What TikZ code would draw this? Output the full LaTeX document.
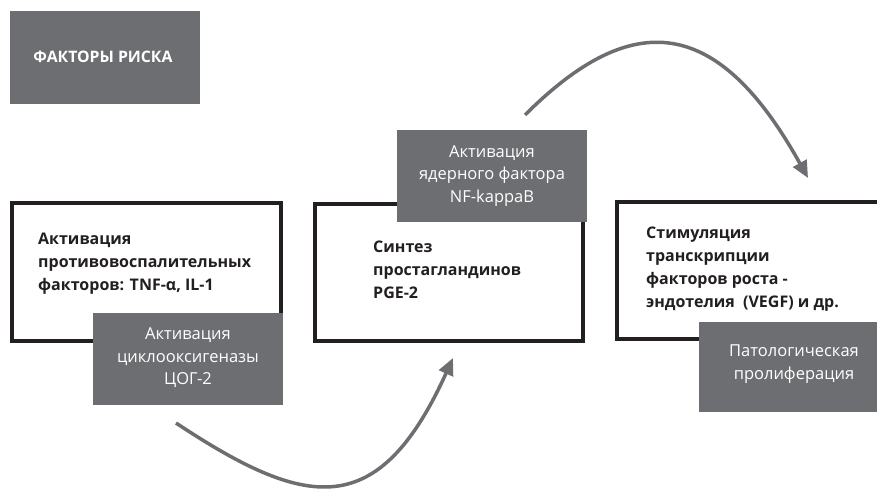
\documentclass[tikz,border=0pt]{standalone}
\usepackage{fontspec}
\setmainfont{Open Sans}
\usetikzlibrary{arrows.meta}
\definecolor{gfill}{HTML}{6D6E71}
\definecolor{ink}{HTML}{231F20}
\tikzset{
  frame/.style={draw=ink, line width=4pt, fill=white},
  grey/.style={fill=gfill, draw=none},
  boldtxt/.style={anchor=north west, inner sep=0pt, align=left, text=ink,
    font=\fontsize{16}{23.2}\selectfont\bfseries},
  greytxt/.style={inner sep=0pt, align=center, text=white,
    font=\fontsize{16.5}{22.5}\selectfont},
  flow/.style={draw=gfill, line width=3.5pt, -{Triangle[length=17pt,width=15pt]}}
}
\begin{document}
\begin{tikzpicture}[x=1pt,y=-1pt]
\clip (0,0) rectangle (877,490);
\fill[white] (0,0) rectangle (877,490);
% risk factors
\fill[grey] (10,11) rectangle (200,104);
\node[text=white, inner sep=0pt, font=\fontsize{15.8}{18}\selectfont\bfseries] (factors) at (103,57) {ФАКТОРЫ РИСКА};
% white frames
\draw[frame] (12,203) rectangle (281,341);
\node[boldtxt] (box1) at (38,232.5) {Активация\\противовоспалительных\\факторов: TNF-α, IL-1};
\draw[frame] (315,204) rectangle (583,341);
\node[boldtxt] (box2) at (373,240.5) {Синтез\\простагландинов\\PGE-2};
\draw[frame] (617,202) rectangle (900,339);
\node[boldtxt] (box3) at (646,226.5) {Стимуляция\\транскрипции\\факторов роста -\\эндотелия~ (VEGF) и др.};
% grey boxes
\fill[grey] (93,313) rectangle (283,405);
\node[greytxt] (g1) at (188,358) {Активация\\циклооксигеназы\\ЦОГ-2};
\fill[grey] (397,130) rectangle (587,222);
\node[greytxt] (g2) at (492,176) {Активация\\ядерного фактора\\NF-kappaB};
\fill[grey] (699,322) rectangle (890,412);
\node[greytxt] (g3) at (794,364) {Патологическая\\пролиферация};
% arrows
\coordinate (a1s) at (176,423);
\coordinate (a1e) at (453,358);
\coordinate (a2s) at (525,115);
\coordinate (a2e) at (808,178);
\draw[flow] (a1s) .. controls (306,509) and (378,523) .. (a1e);
\draw[flow] (a2s) .. controls (633,7) and (718,16) .. (a2e);
\end{tikzpicture}
\end{document}
